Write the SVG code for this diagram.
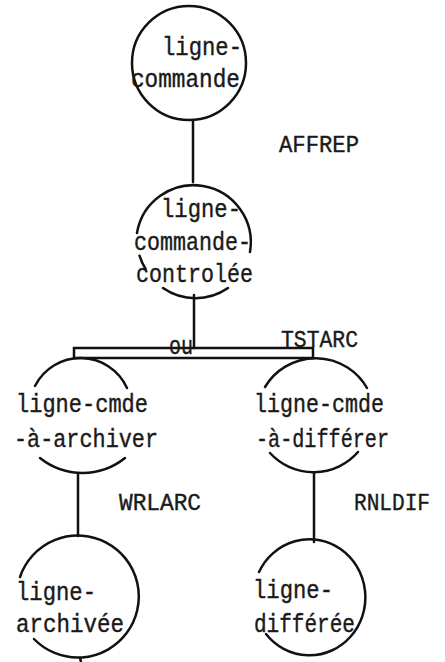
<svg xmlns="http://www.w3.org/2000/svg" width="445" height="662" viewBox="0 0 445 662">
<style>
.t{font-family:"Liberation Mono","DejaVu Sans Mono",monospace;font-size:26px;fill:#1a1a1a;stroke:#1a1a1a;stroke-width:0.4}
.c{font-size:24px}
.s{fill:none;stroke:#111;stroke-width:2.5;stroke-linecap:round}
</style>
<rect width="445" height="662" fill="#fff"/>
<g id="connectors" class="s">
<line x1="193" y1="120" x2="193" y2="182"/>
<line x1="194" y1="295" x2="194" y2="348"/>
<rect x="74" y="348" width="239" height="10"/>
<line x1="78" y1="473" x2="78" y2="536"/>
<line x1="314" y1="473" x2="314" y2="542"/>
<line x1="80" y1="658" x2="81" y2="662"/>
</g>
<g id="ligne-commande">
<circle class="s" cx="189" cy="63" r="57"/>
<text class="t" x="162" y="55" textLength="80" lengthAdjust="spacingAndGlyphs">ligne-</text>
<text class="t" x="131" y="87" textLength="109" lengthAdjust="spacingAndGlyphs">commande</text>
</g>
<text class="t c" x="279" y="152" textLength="80" lengthAdjust="spacingAndGlyphs">AFFREP</text>
<g id="ligne-commande-controlee">
<path class="s" d="M137,233 A57,57 0 1,1 250,252"/>
<path class="s" d="M163,288 A57,57 0 0,0 228,288"/>
<path class="s" d="M139.5,255.7 A57,57 0 0,0 145.7,269.2"/>
<text class="t" x="161" y="217" textLength="80" lengthAdjust="spacingAndGlyphs">ligne-</text>
<text class="t" x="134" y="250" textLength="117" lengthAdjust="spacingAndGlyphs">commande-</text>
<text class="t" x="136" y="282" textLength="117" lengthAdjust="spacingAndGlyphs">controlée</text>
</g>
<text class="t" x="169" y="354" textLength="24" lengthAdjust="spacingAndGlyphs">ou</text>
<text class="t c" x="281" y="347" textLength="77" lengthAdjust="spacingAndGlyphs">TSTARC</text>
<g id="ligne-cmde-a-archiver">
<path class="s" d="M35,386 A51,51 0 0,1 127,388"/>
<path class="s" d="M40,458 A68,68 0 0,0 125,458"/>
<text class="t" x="16" y="412" textLength="132" lengthAdjust="spacingAndGlyphs">ligne-cmde</text>
<text class="t" x="14" y="447" textLength="144" lengthAdjust="spacingAndGlyphs">-à-archiver</text>
</g>
<g id="ligne-cmde-a-differer">
<path class="s" d="M265,387 A59,59 0 0,1 367,388"/>
<path class="s" d="M270,453 A59,59 0 0,0 358,452"/>
<text class="t" x="254" y="412" textLength="130" lengthAdjust="spacingAndGlyphs">ligne-cmde</text>
<text class="t" x="256" y="447" textLength="133" lengthAdjust="spacingAndGlyphs">-à-différer</text>
</g>
<text class="t c" x="119" y="510" textLength="82" lengthAdjust="spacingAndGlyphs">WRLARC</text>
<text class="t c" x="354" y="510" textLength="76" lengthAdjust="spacingAndGlyphs">RNLDIF</text>
<g id="ligne-archivee">
<path class="s" d="M20,577 A61,61 0 1,1 34,639"/>
<text class="t" x="16" y="600" textLength="80" lengthAdjust="spacingAndGlyphs">ligne-</text>
<text class="t" x="16" y="632" textLength="108" lengthAdjust="spacingAndGlyphs">archivée</text>
</g>
<g id="ligne-differee">
<path class="s" d="M259,572 A56,58 0 1,1 266,634"/>
<text class="t" x="253" y="598" textLength="80" lengthAdjust="spacingAndGlyphs">ligne-</text>
<text class="t" x="254" y="632" textLength="101" lengthAdjust="spacingAndGlyphs">différée</text>
</g>
</svg>
